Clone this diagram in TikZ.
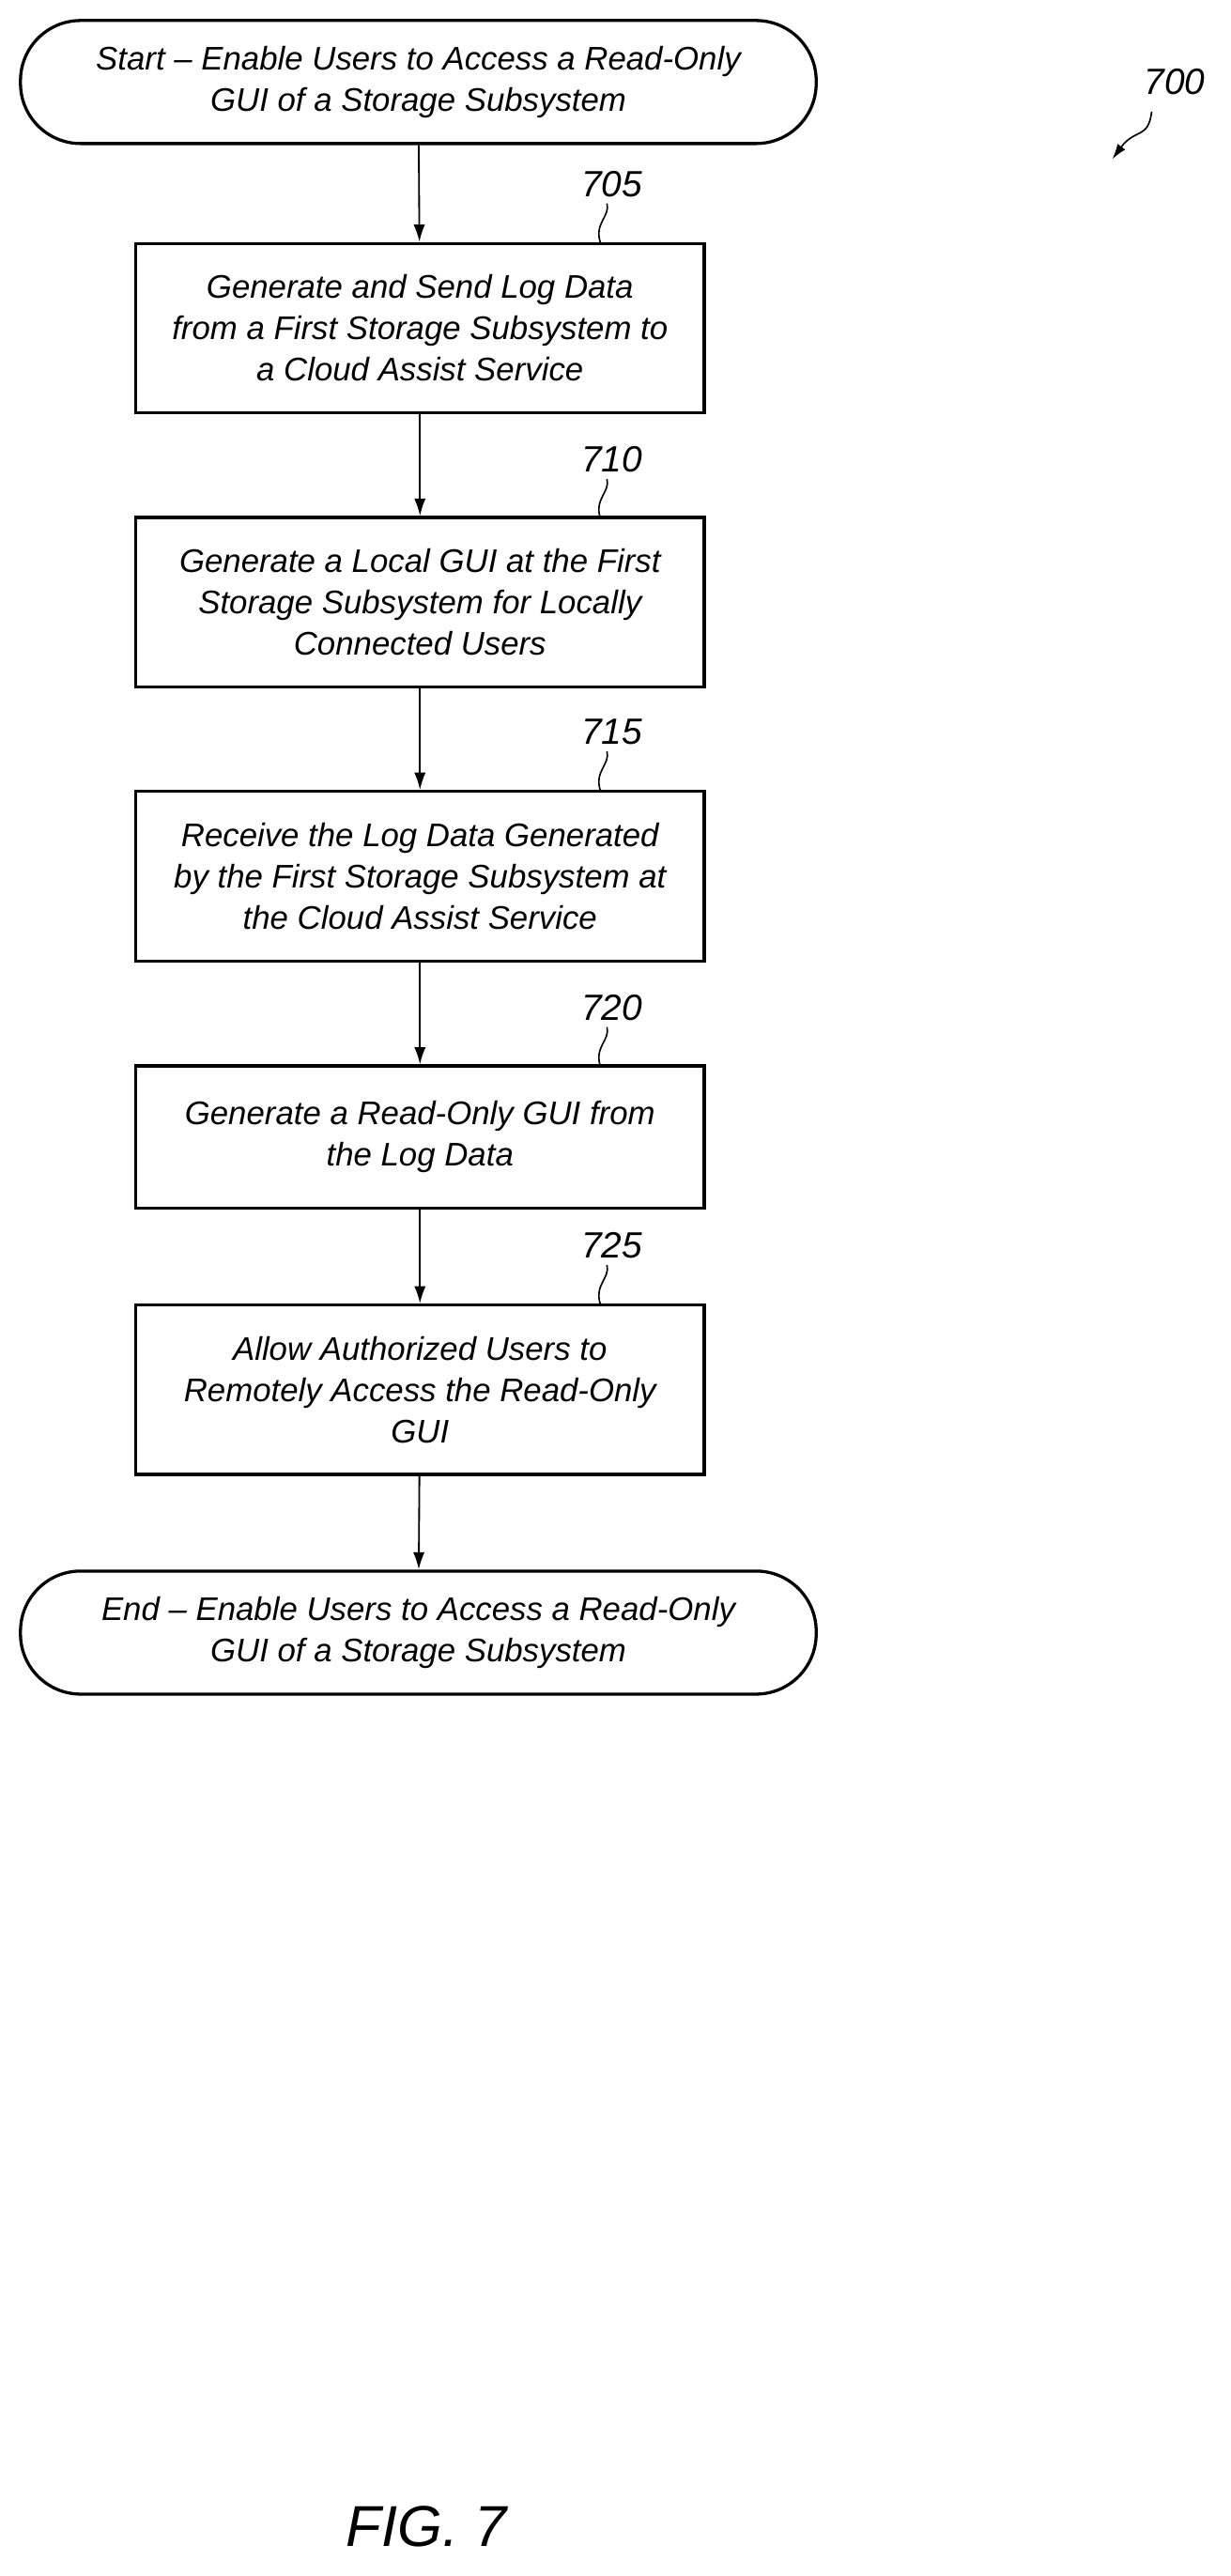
\documentclass[tikz,border=0pt]{standalone}
\usepackage{fontspec}
\setmainfont{Liberation Sans}
\usetikzlibrary{positioning,arrows.meta}

\tikzset{
  flowbox/.style={draw, line width=1.6pt, minimum width=10.4cm, minimum height=3.1cm, align=center, inner sep=2pt},
  term/.style={draw, line width=1.6pt, rounded corners=1.1cm, minimum width=14.55cm, minimum height=2.25cm, align=center},
  flow/.style={-{Latex[length=9pt,width=6pt]}, line width=0.9pt},
  refnum/.style={font=\fontsize{19}{22}\selectfont\itshape},
}

\begin{document}
\begin{tikzpicture}[x=0.03cm, y=-0.03cm, font=\fontsize{17}{21.5}\selectfont\itshape]
  \useasboundingbox (0,0) rectangle (750,1570);

  % Terminals and steps
  \node[term] (start) at (255,50) {Start -- Enable Users to Access a Read-Only\\GUI of a Storage Subsystem};
  \node[flowbox] (s705) at (256,200) {Generate and Send Log Data\\from a First Storage Subsystem to\\a Cloud Assist Service};
  \node[flowbox] (s710) at (256,367) {Generate a Local GUI at the First\\Storage Subsystem for Locally\\Connected Users};
  \node[flowbox] (s715) at (256,534) {Receive the Log Data Generated\\by the First Storage Subsystem at\\the Cloud Assist Service};
  \node[flowbox, minimum height=2.6cm] (s720) at (256,693) {Generate a Read-Only GUI from\\the Log Data};
  \node[flowbox] (s725) at (256,847) {Allow Authorized Users to\\Remotely Access the Read-Only\\GUI};
  \node[term] (end) at (255,995) {End -- Enable Users to Access a Read-Only\\GUI of a Storage Subsystem};

  % Connectors
  \draw[flow] (start) -- (s705);
  \draw[flow] (s705) -- (s710);
  \draw[flow] (s710) -- (s715);
  \draw[flow] (s715) -- (s720);
  \draw[flow] (s720) -- (s725);
  \draw[flow] (s725) -- (end);

  % Reference numerals
  \foreach \n/\y in {705/148, 710/316, 715/482, 720/650, 725/795} {
    \node[refnum] (r\n) at (373,\y-36) {\n};
    \draw[line width=0.8pt] (370,\y-24) .. controls (372,\y-16) and (362,\y-12) .. (366,\y);
  }
  \node[refnum] (r700) at (716,50) {700};
  \coordinate (tip700) at (678,97);
  \draw[-{Latex[length=8pt,width=5pt]}, line width=0.8pt] (702,68) .. controls (700,85) and (692,78) .. (tip700);

  \node[font=\fontsize{30}{34}\selectfont\itshape] (fig) at (260,1540) {FIG. 7};
\end{tikzpicture}
\end{document}
